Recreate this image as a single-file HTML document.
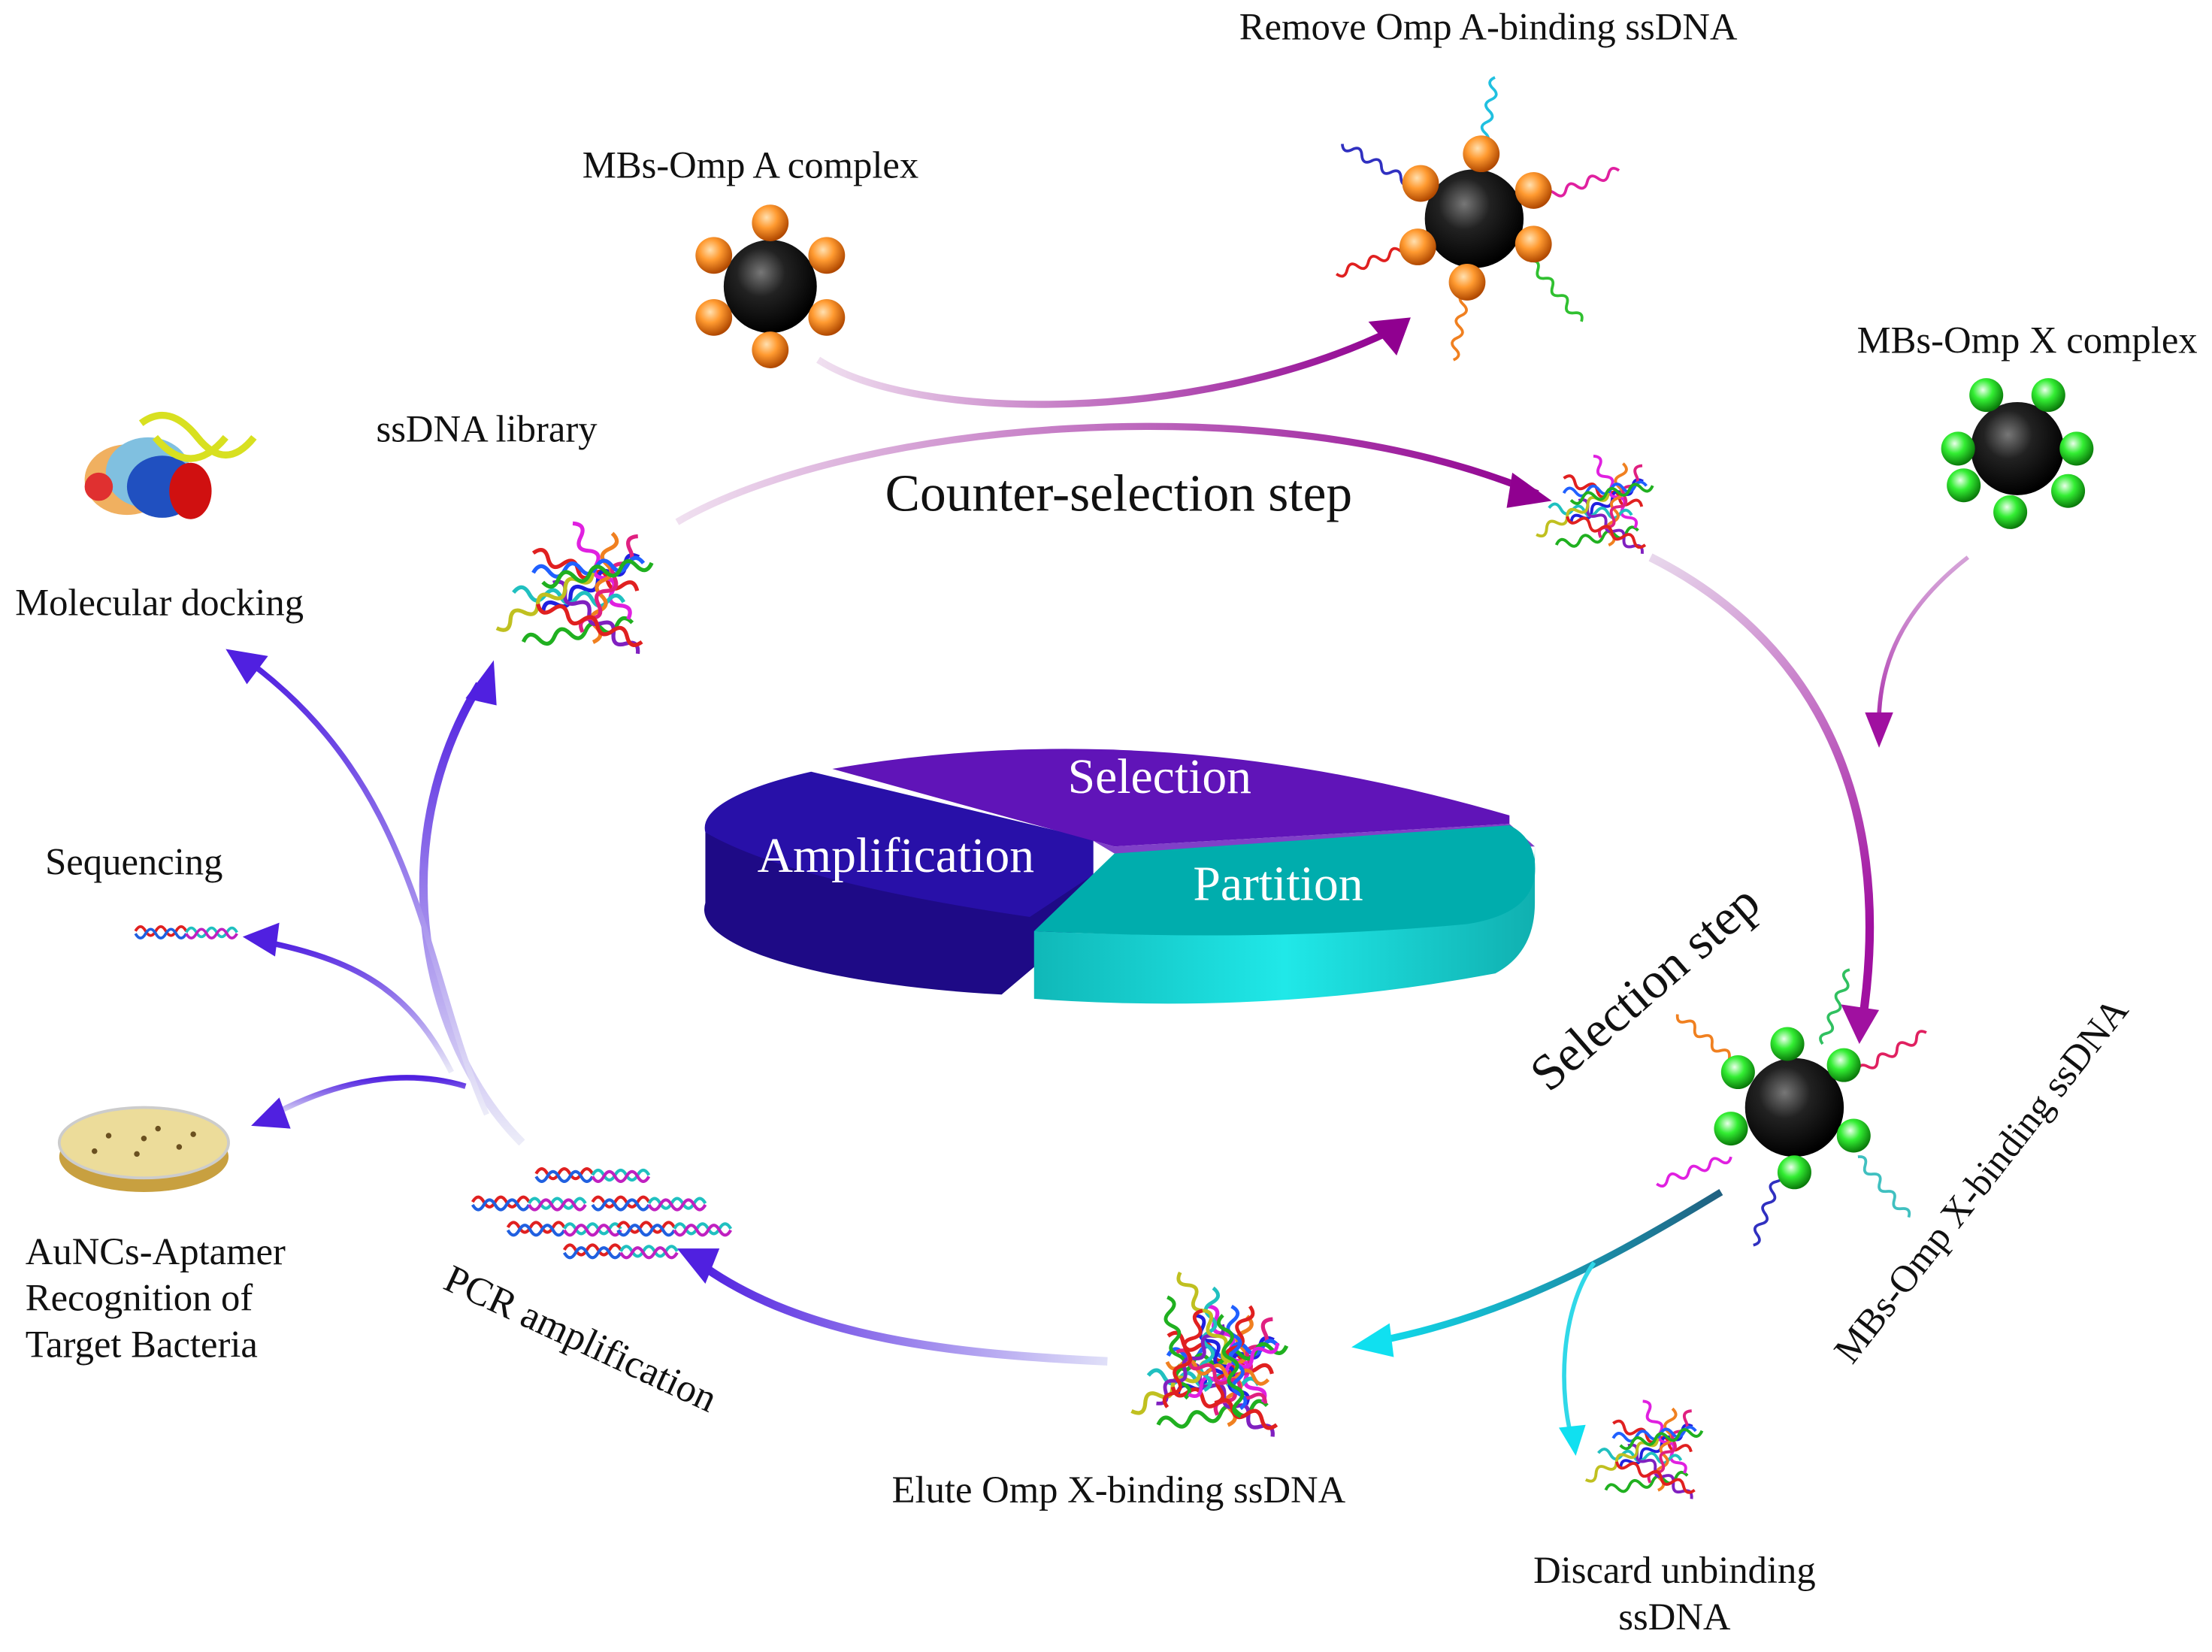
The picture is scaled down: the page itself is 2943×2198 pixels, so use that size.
<!DOCTYPE html>
<html><head><meta charset="utf-8"><style>
html,body{margin:0;padding:0;background:#fff;}
svg{display:block;}
text{font-family:"Liberation Serif",serif;fill:#111;}
</style></head><body>
<svg width="2943" height="2198" viewBox="0 0 1568 1171" xmlns="http://www.w3.org/2000/svg">
<defs>
<radialGradient id="blk" cx="40%" cy="35%" r="65%"><stop offset="0" stop-color="#777"/><stop offset="0.4" stop-color="#222"/><stop offset="1" stop-color="#000"/></radialGradient>
<radialGradient id="org" cx="40%" cy="35%" r="65%"><stop offset="0" stop-color="#ffe0b0"/><stop offset="0.45" stop-color="#ff9a30"/><stop offset="1" stop-color="#b04800"/></radialGradient>
<radialGradient id="grn" cx="40%" cy="35%" r="65%"><stop offset="0" stop-color="#eaffea"/><stop offset="0.45" stop-color="#33ee33"/><stop offset="1" stop-color="#0a7a0a"/></radialGradient>
<linearGradient id="pg1" x1="0" x2="1"><stop offset="0" stop-color="#f0e0f0"/><stop offset="1" stop-color="#900090"/></linearGradient>
<linearGradient id="pg2" x1="0" y1="0" x2="0.3" y2="1"><stop offset="0" stop-color="#e8d8ec"/><stop offset="1" stop-color="#a010a0"/></linearGradient>
<linearGradient id="bg1" x1="1" x2="0"><stop offset="0" stop-color="#e0e0f8"/><stop offset="1" stop-color="#5020e0"/></linearGradient>
<linearGradient id="bg2" x1="0" y1="1" x2="0" y2="0"><stop offset="0" stop-color="#ececf8"/><stop offset="1" stop-color="#5020e0"/></linearGradient>
<linearGradient id="cg" x1="1" x2="0"><stop offset="0" stop-color="#206080"/><stop offset="1" stop-color="#10e0f0"/></linearGradient>
<linearGradient id="side" x1="0" x2="1"><stop offset="0" stop-color="#10b8b8"/><stop offset="0.5" stop-color="#20e8e8"/><stop offset="1" stop-color="#10b0b0"/></linearGradient>
<symbol id="w" overflow="visible"><path d="M0,0 q4,-6 8,0 t8,0 t8,0 t8,0 t8,0 t8,0 t8,0" fill="none" stroke-width="2"/></symbol>
<symbol id="ws" overflow="visible"><path d="M0,0 q4,-7 8,0 t8,0 t8,0 t8,0 t8,0" fill="none" stroke-width="2.2"/></symbol>
<g id="tangle">
<use href="#w" stroke="#e02020" transform="translate(-30,-20) rotate(20)"/>
<use href="#w" stroke="#2020e0" transform="translate(-25,10) rotate(-30)"/>
<use href="#w" stroke="#20b020" transform="translate(-35,25) rotate(-10)"/>
<use href="#w" stroke="#e020e0" transform="translate(-10,-35) rotate(60)"/>
<use href="#w" stroke="#20c0c0" transform="translate(-40,0) rotate(5)"/>
<use href="#w" stroke="#f08020" transform="translate(10,-30) rotate(100)"/>
<use href="#w" stroke="#8020c0" transform="translate(-20,-5) rotate(40)"/>
<use href="#w" stroke="#e02080" transform="translate(-5,20) rotate(-60)"/>
<use href="#w" stroke="#2060ff" transform="translate(-30,-10) rotate(-5)"/>
<use href="#w" stroke="#c0c020" transform="translate(0,-10) rotate(150)"/>
<use href="#w" stroke="#e02020" transform="translate(25,25) rotate(200)"/>
<use href="#w" stroke="#20b020" transform="translate(30,-15) rotate(170)"/>
</g>
<g id="dh">
<use href="#ws" stroke="#e02020" transform="translate(-40,0)"/>
<use href="#ws" stroke="#2060e0" transform="translate(-40,2) scale(1,-1)"/>
<use href="#ws" stroke="#20c0c0" transform="translate(0,1)"/>
<use href="#ws" stroke="#c020c0" transform="translate(0,2) scale(1,-1)"/>
</g>
</defs>

<!-- Pie -->
<path d="M500,590 L500,640 A275,62 0 0 0 710,705 L775,650 L775,595 Z" fill="#1e0a86"/>
<path d="M575,547 A300,60 0 0 0 500,590 Q560,625 730,650 L775,620 L775,595 Z" fill="#2810a8"/>
<path d="M590,545 Q820,505 1070,578 L1070,584 L790,600 L775,596 Z" fill="#6014b8"/>
<path d="M775,596 L790,600 L1070,584 L1088,600 L790,605 Z" fill="#8040c8"/>
<path d="M733,660 L733,708 Q900,720 1060,690 Q1088,675 1088,640 L1088,600 Q1088,640 1060,650 Q900,668 733,660 Z" fill="url(#side)"/>
<path d="M733,660 L790,605 L1070,585 Q1090,595 1088,620 Q1085,648 1040,655 Q900,668 733,660 Z" fill="#00adad"/>
<text x="822" y="562" font-size="35" text-anchor="middle" style="fill:#fff">Selection</text>
<text x="635" y="618" font-size="35" text-anchor="middle" style="fill:#fff">Amplification</text>
<text x="906" y="638" font-size="35" text-anchor="middle" style="fill:#fff">Partition</text>

<!-- Arrows -->
<path d="M580,255 C650,300 850,300 985,235" fill="none" stroke="url(#pg1)" stroke-width="5"/>
<path d="M1000,225 L970,228 L990,252 Z" fill="#900090"/>
<path d="M480,370 C600,300 900,270 1090,350" fill="none" stroke="url(#pg1)" stroke-width="5"/>
<path d="M1100,355 L1072,335 L1068,360 Z" fill="#900090"/>
<path d="M1170,395 C1280,450 1345,560 1320,725" fill="none" stroke="url(#pg2)" stroke-width="6"/>
<path d="M1318,740 L1305,712 L1332,716 Z" fill="#a010a0"/>
<path d="M1395,395 C1350,430 1330,470 1332,520" fill="none" stroke="url(#pg2)" stroke-width="3"/>
<path d="M1332,530 L1322,505 L1342,505 Z" fill="#a010a0"/>
<path d="M1220,845 C1130,900 1060,935 970,952" fill="none" stroke="url(#cg)" stroke-width="5"/>
<path d="M958,955 L985,938 L988,962 Z" fill="#10e0f0"/>
<path d="M1130,895 C1105,930 1105,990 1115,1022" fill="none" stroke="#30d8e8" stroke-width="3"/>
<path d="M1117,1032 L1105,1012 L1124,1010 Z" fill="#10e0f0"/>
<path d="M785,965 C680,960 570,950 495,895" fill="none" stroke="url(#bg1)" stroke-width="6"/>
<path d="M480,885 L510,885 L500,910 Z" fill="#5020e0"/>
<path d="M370,810 C300,740 270,600 340,485" fill="none" stroke="url(#bg2)" stroke-width="6"/>
<path d="M350,468 L330,495 L352,500 Z" fill="#5020e0"/>
<path d="M345,790 C300,690 300,560 175,468" fill="none" stroke="url(#bg2)" stroke-width="4"/>
<path d="M160,460 L190,465 L175,485 Z" fill="#5020e0"/>
<path d="M320,760 C290,700 250,680 185,667" fill="none" stroke="url(#bg2)" stroke-width="4"/>
<path d="M172,664 L198,654 L195,678 Z" fill="#5020e0"/>
<path d="M330,770 C280,755 230,770 190,792" fill="none" stroke="url(#bg2)" stroke-width="4"/>
<path d="M178,798 L198,778 L206,800 Z" fill="#5020e0"/>

<!-- Beads A -->
<g transform="translate(546,203)">
<circle r="33" fill="url(#blk)"/>
<g fill="url(#org)"><circle cx="0" cy="-45" r="13"/><circle cx="0" cy="45" r="13"/><circle cx="-40" cy="-22" r="13"/><circle cx="40" cy="-22" r="13"/><circle cx="-40" cy="22" r="13"/><circle cx="40" cy="22" r="13"/></g>
</g>
<g transform="translate(1045,155)">
<use href="#w" stroke="#20c0e0" transform="translate(5,-45) rotate(-80)"/>
<use href="#w" stroke="#3030c0" transform="translate(-45,-25) rotate(-150)"/>
<use href="#w" stroke="#e020a0" transform="translate(50,-15) rotate(-20)"/>
<use href="#w" stroke="#e02020" transform="translate(-45,20) rotate(160)"/>
<use href="#w" stroke="#f08020" transform="translate(-5,45) rotate(100)"/>
<use href="#w" stroke="#30c030" transform="translate(40,30) rotate(50)"/>
<circle r="35" fill="url(#blk)"/>
<g fill="url(#org)"><circle cx="5" cy="-46" r="13"/><circle cx="-38" cy="-25" r="13"/><circle cx="42" cy="-20" r="13"/><circle cx="-40" cy="20" r="13"/><circle cx="42" cy="18" r="13"/><circle cx="-5" cy="45" r="13"/></g>
</g>
<!-- Beads X -->
<g transform="translate(1430,318)">
<circle r="33" fill="url(#blk)"/>
<g fill="url(#grn)"><circle cx="-22" cy="-38" r="12"/><circle cx="22" cy="-38" r="12"/><circle cx="-42" cy="0" r="12"/><circle cx="42" cy="0" r="12"/><circle cx="-38" cy="26" r="12"/><circle cx="36" cy="30" r="12"/><circle cx="-5" cy="45" r="12"/></g>
</g>
<g transform="translate(1272,785)">
<use href="#w" stroke="#30c060" transform="translate(20,-45) rotate(-70)"/>
<use href="#w" stroke="#f08020" transform="translate(-40,-30) rotate(-140)"/>
<use href="#w" stroke="#e02060" transform="translate(45,-25) rotate(-30)"/>
<use href="#w" stroke="#e020e0" transform="translate(-45,35) rotate(160)"/>
<use href="#w" stroke="#3030c0" transform="translate(-10,45) rotate(110)"/>
<use href="#w" stroke="#40c0c0" transform="translate(45,35) rotate(50)"/>
<circle r="35" fill="url(#blk)"/>
<g fill="url(#grn)"><circle cx="-5" cy="-45" r="12"/><circle cx="35" cy="-30" r="12"/><circle cx="-40" cy="-25" r="12"/><circle cx="-45" cy="15" r="12"/><circle cx="42" cy="20" r="12"/><circle cx="0" cy="46" r="12"/></g>
</g>

<!-- Tangles -->
<use href="#tangle" transform="translate(420,420) scale(1.4)"/>
<use href="#tangle" transform="translate(1140,360) scale(1.05)"/>
<use href="#tangle" transform="translate(870,975) scale(1.4)"/>
<use href="#tangle" transform="translate(860,965) scale(1.3) rotate(90)"/>
<use href="#tangle" transform="translate(1175,1030) scale(1.05)"/>
<use href="#dh" transform="translate(132,660) scale(0.9)"/>
<use href="#dh" transform="translate(420,832)"/>
<use href="#dh" transform="translate(375,852)"/>
<use href="#dh" transform="translate(460,852)"/>
<use href="#dh" transform="translate(400,870)"/>
<use href="#dh" transform="translate(478,870)"/>
<use href="#dh" transform="translate(440,886)"/>

<!-- Molecular docking icon -->
<g transform="translate(110,340)">
<ellipse cx="-20" cy="0" rx="30" ry="25" fill="#f0b060"/>
<ellipse cx="-5" cy="-5" rx="30" ry="25" fill="#80c0e0"/>
<ellipse cx="5" cy="5" rx="25" ry="22" fill="#2050c0"/>
<ellipse cx="-40" cy="5" rx="10" ry="10" fill="#e03030"/>
<ellipse cx="25" cy="8" rx="15" ry="20" fill="#d01010"/>
<path d="M-10,-40 q20,-15 40,10 t40,0 M0,-30 q25,30 50,0" fill="none" stroke="#d8e020" stroke-width="5"/>
</g>
<!-- Petri dish -->
<g transform="translate(102,810)">
<ellipse cx="0" cy="10" rx="60" ry="25" fill="#c8a040"/>
<ellipse cx="0" cy="0" rx="60" ry="25" fill="#ecdc9a" stroke="#ccc" stroke-width="2"/>
<g fill="#6a5020"><circle cx="-25" cy="-5" r="2"/><circle cx="10" cy="-10" r="2"/><circle cx="25" cy="3" r="2"/><circle cx="-5" cy="8" r="2"/><circle cx="-35" cy="6" r="2"/><circle cx="35" cy="-6" r="2"/><circle cx="0" cy="-3" r="2"/></g>
</g>

<!-- Labels -->
<text x="1055" y="28" font-size="27" text-anchor="middle">Remove Omp A-binding ssDNA</text>
<text x="532" y="126" font-size="27" text-anchor="middle">MBs-Omp A complex</text>
<text x="1437" y="250" font-size="27" text-anchor="middle">MBs-Omp X complex</text>
<text x="345" y="313" font-size="27" text-anchor="middle">ssDNA library</text>
<text x="793" y="362" font-size="37" text-anchor="middle">Counter-selection step</text>
<text x="113" y="436" font-size="27" text-anchor="middle">Molecular docking</text>
<text x="95" y="620" font-size="27" text-anchor="middle">Sequencing</text>
<text x="18" y="896" font-size="27">AuNCs-Aptamer</text>
<text x="18" y="929" font-size="27">Recognition of</text>
<text x="18" y="962" font-size="27">Target Bacteria</text>
<text x="793" y="1065" font-size="27" text-anchor="middle">Elute Omp X-binding ssDNA</text>
<text x="1187" y="1122" font-size="27" text-anchor="middle">Discard unbinding</text>
<text x="1187" y="1155" font-size="27" text-anchor="middle">ssDNA</text>
<text transform="translate(1098,775) rotate(-41)" font-size="36">Selection step</text>
<text transform="translate(1313,968) rotate(-52)" font-size="27">MBs-Omp X-binding ssDNA</text>
<text transform="translate(313,913) rotate(25)" font-size="28">PCR amplification</text>
</svg>
</body></html>
